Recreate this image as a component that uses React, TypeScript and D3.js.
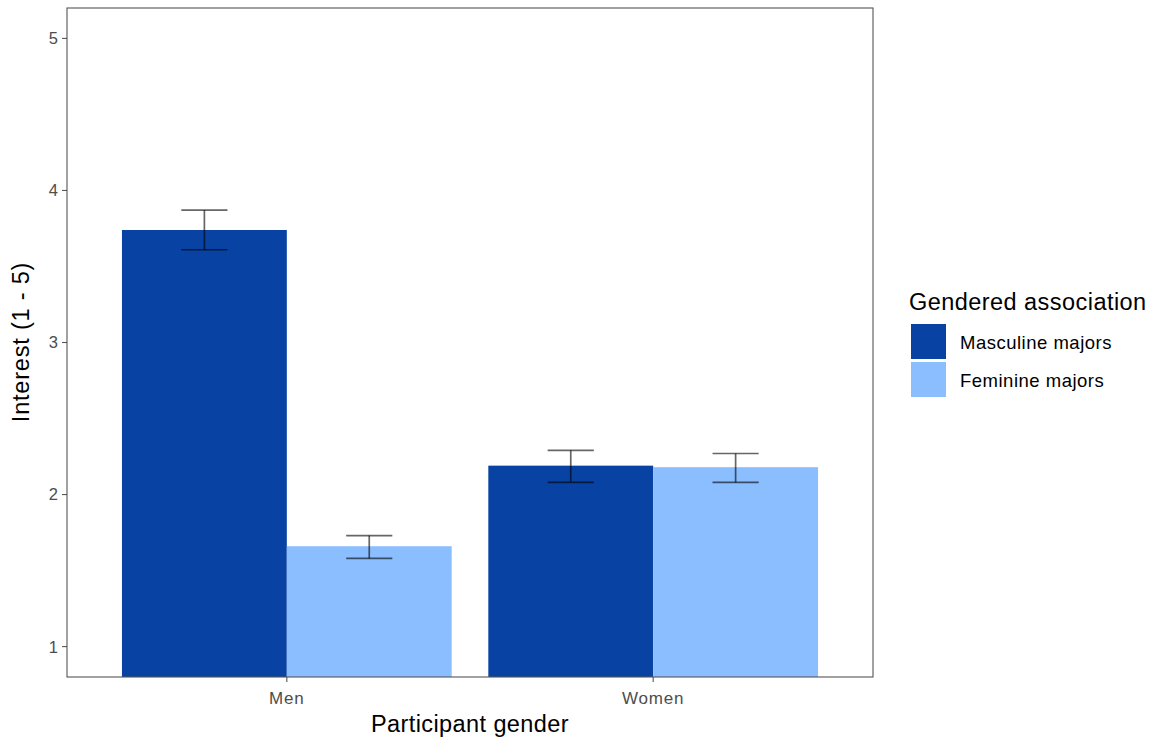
import React from "react";
import * as d3 from "d3";

const genders = ["Men", "Women"];
const associations = ["Masculine majors", "Feminine majors"];
const meanInterest = [
  [3.74, 1.66],
  [2.19, 2.18],
];
const ciLow = [
  [3.61, 1.58],
  [2.08, 2.08],
];
const ciHigh = [
  [3.87, 1.73],
  [2.29, 2.27],
];
const yTicks = [1, 2, 3, 4, 5];
const fills = ["#0843A3", "#8BBEFF"];

const W = 1162;
const H = 743;
const panel = { left: 67, right: 873, top: 8, bottom: 677 };
const FONT = "'Liberation Sans', Arial, Helvetica, sans-serif";

export default function App() {
  const x = d3
    .scaleBand<string>()
    .domain(genders)
    .range([panel.left, panel.right])
    .paddingInner(0.1)
    .paddingOuter(0.15);
  const xSub = d3
    .scaleBand<string>()
    .domain(associations)
    .range([0, x.bandwidth()])
    .padding(0);
  const y = d3.scaleLinear().domain([0.8, 5.2]).range([panel.bottom, panel.top]);
  const capW = xSub.bandwidth() * 0.28;

  return (
    <svg
      width={W}
      height={H}
      style={{ position: "absolute", left: 0, top: 0, background: "#fff" }}
      fontFamily={FONT}
    >
      <rect x={0} y={0} width={W} height={H} fill="#fff" />
      {/* bars */}
      {genders.map((g, gi) =>
        associations.map((a, ai) => {
          const x0 = (x(g) ?? 0) + (xSub(a) ?? 0);
          return (
            <rect
              key={g + a}
              x={x0}
              y={y(meanInterest[gi][ai])}
              width={xSub.bandwidth()}
              height={panel.bottom - y(meanInterest[gi][ai])}
              fill={fills[ai]}
            />
          );
        })
      )}
      {/* error bars */}
      {genders.map((g, gi) =>
        associations.map((a, ai) => {
          const cx = (x(g) ?? 0) + (xSub(a) ?? 0) + xSub.bandwidth() / 2;
          const lo = y(ciLow[gi][ai]);
          const hi = y(ciHigh[gi][ai]);
          return (
            <g key={"e" + g + a} stroke="#000" strokeOpacity={0.6} strokeWidth={1.7} fill="none">
              <line x1={cx} x2={cx} y1={hi} y2={lo} />
              <line x1={cx - capW / 2} x2={cx + capW / 2} y1={hi} y2={hi} />
              <line x1={cx - capW / 2} x2={cx + capW / 2} y1={lo} y2={lo} />
            </g>
          );
        })
      )}
      {/* panel border */}
      <rect
        x={panel.left}
        y={panel.top}
        width={panel.right - panel.left}
        height={panel.bottom - panel.top}
        fill="none"
        stroke="#555"
        strokeWidth={1.1}
      />
      {/* y axis */}
      {yTicks.map((t) => (
        <g key={t}>
          <line x1={panel.left - 5} x2={panel.left} y1={y(t)} y2={y(t)} stroke="#555" strokeWidth={1.1} />
          <text x={panel.left - 9} y={y(t)} dy="0.36em" textAnchor="end" fontSize={16.5} fill="#4d4d4d">
            {t}
          </text>
        </g>
      ))}
      {/* x axis */}
      {genders.map((g) => {
        const cx = (x(g) ?? 0) + x.bandwidth() / 2;
        return (
          <g key={g}>
            <line x1={cx} x2={cx} y1={panel.bottom} y2={panel.bottom + 5} stroke="#555" strokeWidth={1.1} />
            <text
              x={cx}
              y={704}
              textAnchor="middle"
              fontSize={17}
              letterSpacing={0.8}
              fill="#4d4d4d"
            >
              {g}
            </text>
          </g>
        );
      })}
      <text
        x={(panel.left + panel.right) / 2}
        y={732}
        textAnchor="middle"
        fontSize={23.5}
        letterSpacing={0.4}
        fill="#000"
      >
        Participant gender
      </text>
      <text
        transform={`translate(29, 342) rotate(-90)`}
        textAnchor="middle"
        fontSize={23.5}
        letterSpacing={0.8}
        fill="#000"
      >
        Interest (1 - 5)
      </text>
      {/* legend */}
      <text x={909} y={310} fontSize={23.5} letterSpacing={0.45} fill="#000">
        Gendered association
      </text>
      {associations.map((a, i) => (
        <g key={a}>
          <rect x={911} y={324 + i * 38} width={35} height={35} fill={fills[i]} />
          <text x={960} y={349 + i * 38} fontSize={18.5} letterSpacing={0.5} fill="#000">
            {a}
          </text>
        </g>
      ))}
    </svg>
  );
}
